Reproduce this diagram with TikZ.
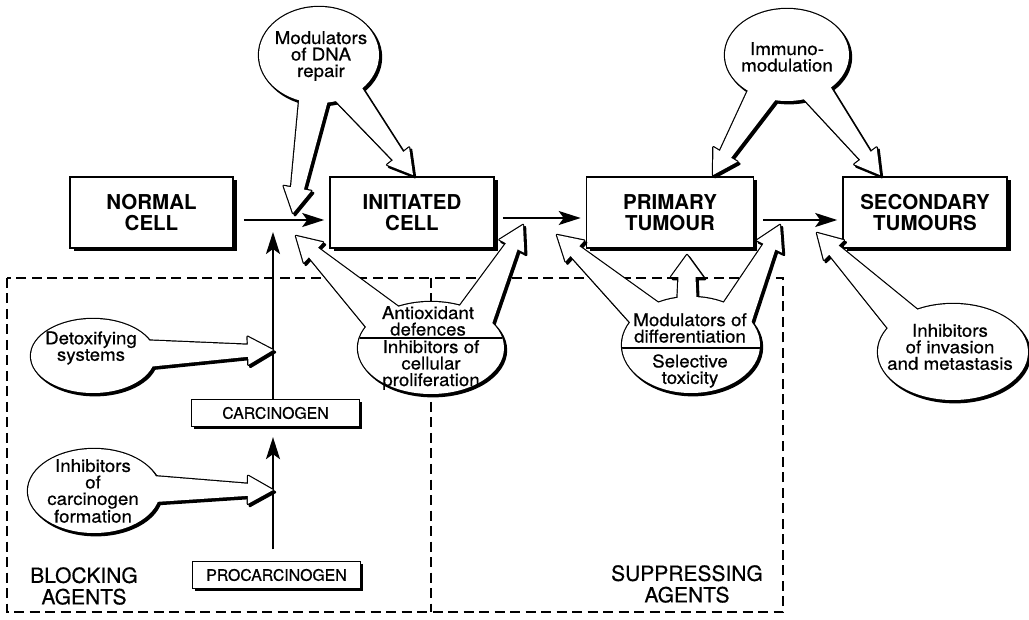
\documentclass[tikz,border=0pt]{standalone}
\usepackage{fontspec}
\setmainfont{TeX Gyre Heros}
\newfontfamily\bubfont{TeX Gyre Heros}[FakeStretch=1.07, FakeBold=0.6]
\newfontfamily\agfont{TeX Gyre Heros}[FakeBold=0.5]
\usetikzlibrary{calc,arrows.meta,shadows}

% hollow arrow tail: name, base, tip, base half-width, shaft half-width, head half-width, head length
\newcommand{\mktail}[7]{%
  \coordinate (#1-T) at (#3);
  \coordinate (#1-B) at (#2);
  \coordinate (#1-N) at ($(#1-T)!#7!(#1-B)$);
  \coordinate (#1-b1) at ($(#1-B)!#4!90:(#1-T)$);
  \coordinate (#1-b2) at ($(#1-B)!#4!-90:(#1-T)$);
  \coordinate (#1-s1) at ($(#1-N)!#5!90:(#1-T)$);
  \coordinate (#1-s2) at ($(#1-N)!#5!-90:(#1-T)$);
  \coordinate (#1-h1) at ($(#1-N)!#6!90:(#1-T)$);
  \coordinate (#1-h2) at ($(#1-N)!#6!-90:(#1-T)$);
}
\newcommand{\tailpath}[1]{(#1-b1) -- (#1-s1) -- (#1-h1) -- (#1-T) -- (#1-h2) -- (#1-s2) -- (#1-b2) -- cycle}
% bubble: centre, rx, ry, list of tails
\newcommand{\bubble}[4]{%
  \begin{scope}[transform canvas={xshift=2pt,yshift=-2.2pt}]
    \filldraw[line width=2.4pt, line join=round] (#1) ellipse [x radius=#2, y radius=#3];
    \foreach \t in {#4} {\filldraw[line width=2.4pt, line join=round] \tailpath{\t};}
  \end{scope}
  \draw[line width=2.4pt, line join=round] (#1) ellipse [x radius=#2, y radius=#3];
  \foreach \t in {#4} {\draw[line width=2.4pt, line join=round] \tailpath{\t};}
  \fill[white] (#1) ellipse [x radius=#2, y radius=#3];
  \foreach \t in {#4} {\fill[white] \tailpath{\t};}
}

\begin{document}
\begin{tikzpicture}[x=1pt,y=-1pt,
  cellbox/.style={draw, line width=1.6pt, fill=white, inner sep=0pt, align=center,
     font=\fontsize{20.5}{21}\selectfont\bfseries,
     drop shadow={shadow xshift=3.5pt, shadow yshift=-3.5pt, fill=black, opacity=1},
     minimum height=71pt},
  agentbox/.style={draw, line width=1.3pt, fill=white, inner sep=0pt,
     font=\agfont\fontsize{15.8}{16}\selectfont, minimum width=168pt, minimum height=27pt,
     drop shadow={shadow xshift=2.5pt, shadow yshift=-2.5pt, fill=black, opacity=1}},
  bubtext/.style={align=center, inner sep=0pt, font=\bubfont\fontsize{17.5}{16.5}\selectfont},
  grouplabel/.style={align=center, inner sep=0pt, font=\agfont\fontsize{21}{21.5}\selectfont},
  arr/.style={line width=2pt, -{Stealth[length=22pt,width=14pt,inset=5pt]}},
  dashline/.style={line width=2pt, dash pattern=on 10pt off 5.5pt},
  divider/.style={line width=1.3pt},
]
\useasboundingbox (0,0) rectangle (1029,620);

% dashed regions
\coordinate (dTL) at (7,278);
\coordinate (dBR) at (783,612);
\coordinate (dMT) at (431,278);
\coordinate (dMB) at (431,612);
\draw[dashline] (dTL) rectangle (dBR);
\draw[dashline] (dMT) -- (dMB);

% main boxes
\node[cellbox, minimum width=163pt] (normal) at (151.5,212.5) {NORMAL\\CELL};
\node[cellbox, minimum width=164pt] (initiated) at (412,212.5) {INITIATED\\CELL};
\node[cellbox, minimum width=167pt] (primary) at (670,212.5) {PRIMARY\\TUMOUR};
\node[cellbox, minimum width=164pt] (secondary) at (925,212.5) {SECONDARY\\TUMOURS};
\node[agentbox] (carcinogen) at (275.5,413) {CARCINOGEN};
\node[agentbox] (procarcinogen) at (276.5,575) {PROCARCINOGEN};

% black arrows
\coordinate (j1) at (273,220);
\coordinate (j2) at (0,218);
\coordinate (j3) at (0,220);
\draw[arr, shorten <=10pt, shorten >=5pt] (normal.east |- j1) -- (initiated.west |- j1);
\draw[arr, shorten <=8pt, shorten >=5pt] (initiated.east |- j2) -- (primary.west |- j2);
\draw[arr, shorten <=9pt, shorten >=5pt] (primary.east |- j3) -- (secondary.west |- j3);
\draw[arr, shorten >=12pt] (carcinogen.north -| j1) -- (j1);
\draw[arr, shorten <=11.5pt, shorten >=10pt] (procarcinogen.north -| j1) -- (carcinogen.south -| j1);

% bubble centres and tail tips
\coordinate (dnaC) at (319,55);
\coordinate (imC) at (787,55);
\coordinate (axC) at (431,348);
\coordinate (mdC) at (691,345);
\coordinate (ivC) at (953,352);
\coordinate (dtC) at (93,356);
\coordinate (cfC) at (94,491);

\coordinate (tDnaL) at (293,213);
\coordinate (tDnaR) at (413,175);
\coordinate (tImL) at (713,175);
\coordinate (tImR) at (880,175);
\coordinate (tAxL) at (296,236);
\coordinate (tAxR) at (523,225);
\coordinate (tMdL) at (557,235);
\coordinate (tMdU) at (687,255);
\coordinate (tMdR) at (780,225);
\coordinate (tIvL) at (817,233);
\coordinate (tDtR) at (273,350);
\coordinate (tCfR) at (273,490);

\mktail{dnaL}{$(dnaC)+(-4,36)$}{tDnaL}{15pt}{6.5pt}{14pt}{25pt}
\mktail{dnaR}{$(dnaC)+(26,34)$}{tDnaR}{15pt}{6.5pt}{14pt}{24pt}
\mktail{imL}{$(imC)+(-22,34)$}{tImL}{15pt}{6.5pt}{14pt}{24pt}
\mktail{imR}{$(imC)+(26,32)$}{tImR}{15pt}{6.5pt}{14pt}{24pt}
\mktail{axL}{$(axC)+(-40,-22)$}{tAxL}{20pt}{6.5pt}{14pt}{24pt}
\mktail{axR}{$(axC)+(40,-24)$}{tAxR}{20pt}{6.5pt}{14pt}{24pt}
\mktail{mdL}{$(mdC)+(-38,-24)$}{tMdL}{18pt}{6.5pt}{14pt}{24pt}
\mktail{mdU}{$(mdC)+(-4,-36)$}{tMdU}{10pt}{8.5pt}{16pt}{22pt}
\mktail{mdR}{$(mdC)+(42,-24)$}{tMdR}{18pt}{6.5pt}{14pt}{24pt}
\mktail{ivL}{$(ivC)+(-44,-26)$}{tIvL}{18pt}{6.5pt}{14pt}{24pt}
\mktail{dtR}{$(dtC)+(44,-2)$}{tDtR}{14pt}{6pt}{14pt}{25pt}
\mktail{cfR}{$(cfC)+(46,-2)$}{tCfR}{14pt}{6pt}{14pt}{25pt}

% bubbles
\bubble{dnaC}{60}{48}{dnaL,dnaR}
\bubble{imC}{62}{46}{imL,imR}
\bubble{axC}{73}{46}{axL,axR}
\bubble{mdC}{69}{48}{mdL,mdU,mdR}
\bubble{ivC}{75}{48}{ivL}
\bubble{dtC}{62}{37}{dtR}
\bubble{cfC}{66}{42}{cfR}

% dividers inside bubbles
\begin{scope}
  \clip (axC) ellipse [x radius=73, y radius=46];
  \draw[divider] ($(axC)+(-80,-10)$) -- ($(axC)+(80,-10)$);
\end{scope}
\begin{scope}
  \clip (mdC) ellipse [x radius=69, y radius=48];
  \draw[divider] ($(mdC)+(-80,3)$) -- ($(mdC)+(80,3)$);
\end{scope}

% bubble texts
\node[bubtext] (dnaT) at (321,56) {Modulators\\of DNA\\repair};
\node[bubtext] (imT) at (787,57) {Immuno-\\modulation};
\node[bubtext] (axT1) at (428,321) {Antioxidant\\defences};
\node[bubtext] (axT2) at (431,365) {Inhibitors of\\cellular\\proliferation};
\node[bubtext] (mdT1) at (690,328) {Modulators of\\differentiation};
\node[bubtext] (mdT2) at (690,371) {Selective\\toxicity};
\node[bubtext] (ivT) at (950,347) {Inhibitors\\of invasion\\and metastasis};
\node[bubtext] (dtT) at (91,348) {Detoxifying\\systems};
\node[bubtext] (cfT) at (93,491) {Inhibitors\\of\\carcinogen\\formation};

% group labels
\node[grouplabel] (blk) at (84,586) {BLOCKING\\AGENTS};
\node[grouplabel] (sup) at (687,584) {SUPPRESSING\\AGENTS};
\end{tikzpicture}
\end{document}
